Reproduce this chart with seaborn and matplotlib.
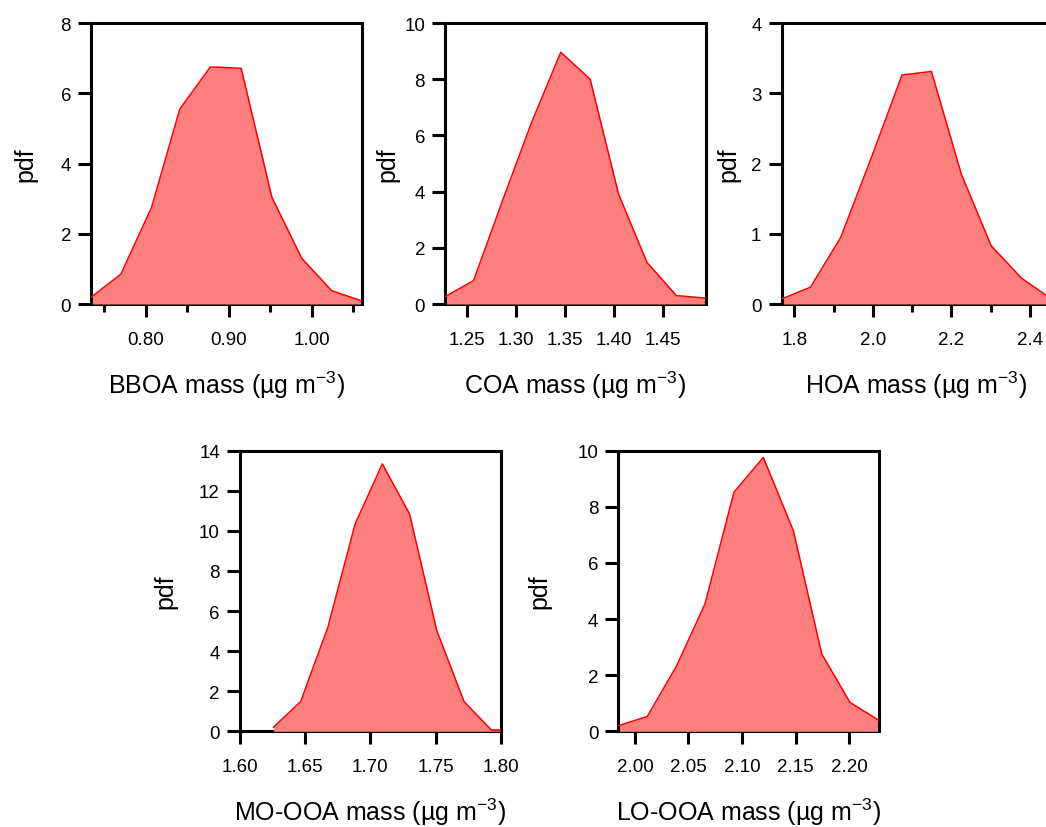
import numpy as np
import matplotlib
matplotlib.use("Agg")
import matplotlib.pyplot as plt
import seaborn as sns
from matplotlib.ticker import FixedLocator, FormatStrFormatter

# ---------------- data ----------------
bboa_mass = [0.734, 0.770, 0.807, 0.841, 0.878, 0.915, 0.952, 0.988, 1.024, 1.060]
bboa_pdf = [0.19, 0.85, 2.75, 5.55, 6.75, 6.71, 3.04, 1.30, 0.38, 0.09]

coa_mass = [1.228, 1.257, 1.286, 1.316, 1.346, 1.376, 1.405, 1.434, 1.464, 1.494]
coa_pdf = [0.26, 0.83, 3.62, 6.44, 8.96, 8.00, 3.91, 1.48, 0.30, 0.21]

hoa_mass = [1.767, 1.841, 1.918, 1.997, 2.074, 2.149, 2.225, 2.301, 2.379, 2.455]
hoa_pdf = [0.07, 0.24, 0.95, 2.10, 3.26, 3.31, 1.85, 0.83, 0.365, 0.07]

moooa_mass = [1.6256, 1.6465, 1.6674, 1.6883, 1.7092, 1.7301, 1.7510, 1.7719, 1.7928, 1.8137]
moooa_pdf = [0.20, 1.48, 5.19, 10.34, 13.34, 10.84, 5.02, 1.48, 0.07, 0.05]

loooa_mass = [1.9844, 2.0115, 2.0390, 2.0654, 2.0925, 2.1199, 2.1480, 2.1745, 2.2009, 2.2283]
loooa_pdf = [0.20, 0.53, 2.34, 4.54, 8.52, 9.76, 7.15, 2.76, 1.03, 0.38]

factor_names = ["BBOA", "COA", "HOA", "MO-OOA", "LO-OOA"]

bboa_xticks = [0.80, 0.90, 1.00]
bboa_xminor = [0.75, 0.85, 0.95, 1.05]
coa_xticks = [1.25, 1.30, 1.35, 1.40, 1.45]
hoa_xticks = [1.8, 2.0, 2.2, 2.4]
hoa_xminor = [1.9, 2.1, 2.3]
moooa_xticks = [1.60, 1.65, 1.70, 1.75, 1.80]
loooa_xticks = [2.00, 2.05, 2.10, 2.15, 2.20]

bboa_yticks = [0, 2, 4, 6, 8]
coa_yticks = [0, 2, 4, 6, 8, 10]
hoa_yticks = [0, 1, 2, 3, 4]
moooa_yticks = [0, 2, 4, 6, 8, 10, 12, 14]
loooa_yticks = [0, 2, 4, 6, 8, 10]

# ---------------- style ----------------
sns.set_style("ticks")
plt.rcParams["font.family"] = ["Liberation Sans", "DejaVu Sans"]
plt.rcParams["mathtext.fontset"] = "custom"
plt.rcParams["mathtext.rm"] = "Liberation Sans"
plt.rcParams["mathtext.default"] = "regular"
plt.rcParams["text.color"] = "black"
plt.rcParams["axes.labelcolor"] = "black"
plt.rcParams["xtick.color"] = "black"
plt.rcParams["ytick.color"] = "black"

W, H = 1046, 828
fig = plt.figure(figsize=(W / 100, H / 100), dpi=100)
fig.patch.set_facecolor("white")

panels = [
    dict(x=bboa_mass, y=bboa_pdf, name=factor_names[0], box=(91, 24, 362, 305),
         xlim=(0.734, 1.0606), xt=bboa_xticks, xm=bboa_xminor, yt=bboa_yticks, fmt="%.2f", ylx=-54),
    dict(x=coa_mass, y=coa_pdf, name=factor_names[1], box=(445, 24, 705.7, 305),
         xlim=(1.2279, 1.4939), xt=coa_xticks, xm=[], yt=coa_yticks, fmt="%.2f", ylx=-46),
    dict(x=hoa_mass, y=hoa_pdf, name=factor_names[2], box=(781.5, 24, 1050, 305),
         xlim=(1.767, 2.451), xt=hoa_xticks, xm=hoa_xminor, yt=hoa_yticks, fmt="%.1f", ylx=-41),
    dict(x=moooa_mass, y=moooa_pdf, name=factor_names[3], box=(240, 451.7, 500.7, 732.3),
         xlim=(1.60, 1.80), xt=moooa_xticks, xm=[], yt=moooa_yticks, fmt="%.2f", ylx=-63),
    dict(x=loooa_mass, y=loooa_pdf, name=factor_names[4], box=(618.3, 451.7, 879.3, 732.3),
         xlim=(1.9844, 2.2283), xt=loooa_xticks, xm=[], yt=loooa_yticks, fmt="%.2f", ylx=-67),
]

LW = 2.2
for p in panels:
    x0, y0, x1, y1 = p["box"]
    ax = fig.add_axes([x0 / W, 1 - y1 / H, (x1 - x0) / W, (y1 - y0) / H])
    ax.set_facecolor("white")
    ax.fill_between(p["x"], p["y"], 0, color="#FF7F7F", linewidth=0, zorder=2)
    sns.lineplot(x=p["x"], y=p["y"], ax=ax, color="#FF0000", linewidth=1.1, zorder=3)

    ax.set_xlim(*p["xlim"])
    ax.set_ylim(p["yt"][0], p["yt"][-1])
    ax.xaxis.set_major_locator(FixedLocator(p["xt"]))
    ax.xaxis.set_major_formatter(FormatStrFormatter(p["fmt"]))
    if p["xm"]:
        ax.xaxis.set_minor_locator(FixedLocator(p["xm"]))
    ax.yaxis.set_major_locator(FixedLocator(p["yt"]))
    ax.yaxis.set_major_formatter(FormatStrFormatter("%d"))

    for s in ax.spines.values():
        s.set_visible(True)
        s.set_linewidth(LW)
        s.set_color("black")
    ax.spines["bottom"].set_zorder(1)

    ax.tick_params(axis="both", which="major", direction="out", length=9.4, width=LW,
                   labelsize=13.5, colors="black", top=False, right=False)
    ax.tick_params(axis="x", which="major", pad=10)
    ax.tick_params(axis="y", which="major", pad=5)
    ax.tick_params(axis="x", which="minor", direction="out", length=5.8, width=LW,
                   top=False, bottom=True)

    ax.set_xlabel(p["name"] + " mass (µg m$^{-3}$)", fontsize=18, labelpad=15)
    ax.set_ylabel("pdf", fontsize=18)
    ax.yaxis.set_label_coords(p["ylx"] / (x1 - x0), 0.5)
    ax.grid(False)

fig.savefig("out.png", dpi=100, facecolor="white")
